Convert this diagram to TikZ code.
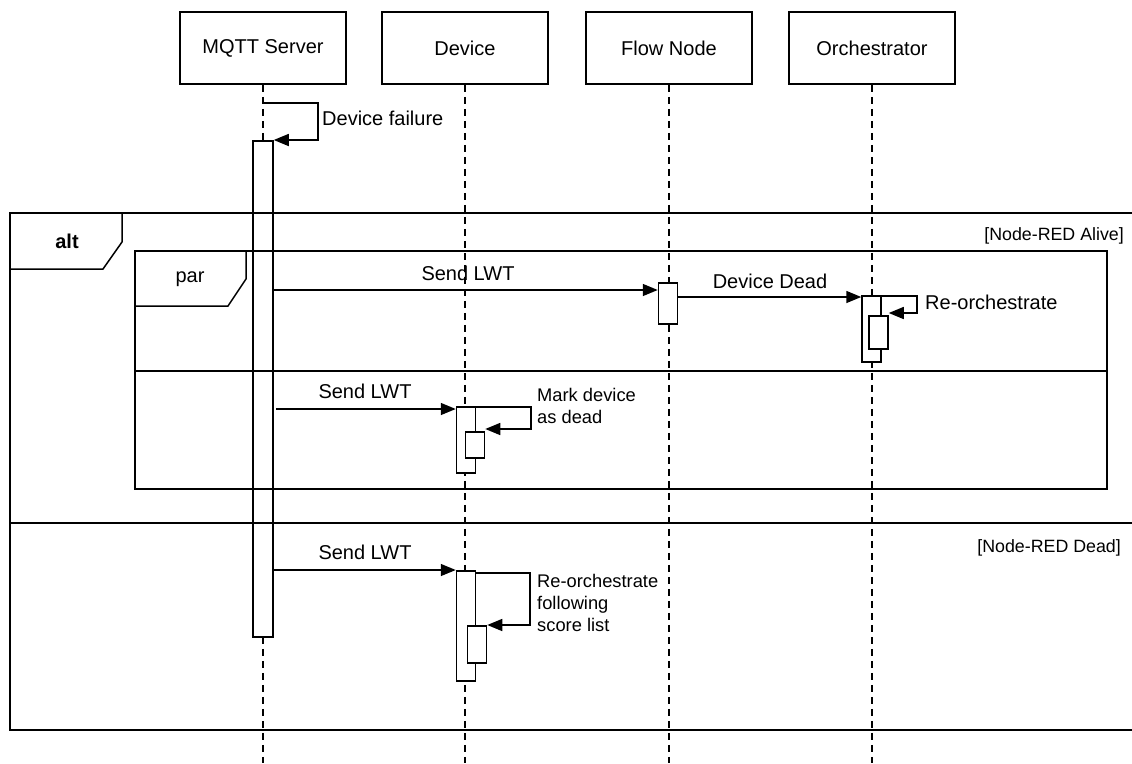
\documentclass[tikz,border=0pt]{standalone}
\usepackage{fontspec}
\setmainfont{Liberation Sans}
\usetikzlibrary{positioning,arrows.meta,calc}

\tikzset{
  actor/.style={draw,line width=1.5pt,minimum width=166pt,minimum height=72pt,inner sep=0pt,font=\fontsize{20}{23}\selectfont},
  lifeline/.style={line width=1.4pt,dash pattern=on 7pt off 5pt},
  actbar/.style={draw,fill=white,line width=1.5pt,minimum width=19pt,inner sep=0pt,anchor=north},
  msg/.style={line width=1.5pt,-{Triangle[length=15pt,width=12pt]}},
  frm/.style={line width=1.5pt},
  lbl/.style={inner sep=0pt,font=\fontsize{20}{23}\selectfont},
  note/.style={inner sep=0pt,anchor=west,align=left,font=\fontsize{18.3}{22}\selectfont},
  guard/.style={inner sep=0pt,anchor=east,font=\fontsize{17.8}{21}\selectfont}
}

\begin{document}
\begin{tikzpicture}[x=1pt,y=-1pt]
\useasboundingbox (0,0) rectangle (1132,763);

% participants
\node[actor] (mqtt) at (263,48) {MQTT Server};
\node[actor] (dev) at (465,48) {Device};
\node[actor] (flow) at (669,48) {Flow Node};
\node[actor] (orch) at (872,48) {Orchestrator};

% lifelines
\foreach \p in {mqtt,dev,flow,orch}
  \draw[lifeline] (\p.south) -- (\p.south |- 0,763);

% activations
\node[actbar,minimum width=20pt,minimum height=496pt] (mqttact) at (263,140) {};
\node[actbar,minimum height=41pt] (flowact) at (668,282) {};
\node[actbar,minimum height=66pt] (orchact) at (871.5,295) {};
\node[actbar,minimum height=33pt] (orchin) at (878.5,315) {};
\node[actbar,minimum height=66pt] (devact) at (466,406) {};
\node[actbar,minimum height=26pt] (devin) at (475,431) {};
\node[actbar,minimum height=110pt] (devbact) at (466,570) {};
\node[actbar,minimum height=37pt] (devbin) at (477,625) {};

% alt frame
\draw[frm] (1140,213) -- (10,213) -- (10,730) -- (1140,730);
\draw[frm] (10,523) -- (1140,523);
\draw[frm] (10,213) -- (122,213) -- (122,242) -- (103,269) -- (10,269);
\node[lbl,font=\fontsize{20}{23}\selectfont\bfseries] (alt) at (67,241) {alt};
\node[guard] (alive) at (1124,236) {[Node-RED Alive]};
\node[guard] (dead) at (1121,548) {[Node-RED Dead]};

% par frame
\draw[frm] (135,251) rectangle (1107,489);
\draw[frm] (135,371) -- (1107,371);
\draw[frm] (135,251) -- (246,251) -- (246,279) -- (228,306) -- (135,306);
\node[lbl] (par) at (190,279) {par};

% device failure
\coordinate (fail) at (263,103);
\draw[msg] (fail) -- (318,103) -- (318,140) -- (mqttact.north east);
\node[lbl,anchor=west] (failtxt) at (322,118) {Device failure};

% Node-RED alive, branch 1
\draw[msg] (mqttact.east |- 0,290) -- (flowact.west |- 0,290);
\node[lbl] (lwta) at (468,273) {Send LWT};
\draw[msg] (flowact.east |- 0,297) -- (orchact.west |- 0,297);
\node[lbl] (deaddev) at (770,281) {Device Dead};
\draw[msg] (orchact.east |- 0,296) -- (917,296) -- (917,313) -- (orchin.east |- 0,313);
\node[lbl,anchor=west] (reorch) at (925,302) {Re-orchestrate};

% Node-RED alive, branch 2
\coordinate (lwtbstart) at (276,409);
\draw[msg] (lwtbstart) -- (devact.west |- lwtbstart);
\node[lbl] (lwtb) at (365,391) {Send LWT};
\draw[msg] (devact.east |- 0,407) -- (531,407) -- (531,429) -- (devin.east |- 0,429);
\node[note] (mark) at (537,406) {Mark device\\as dead};

% Node-RED dead
\draw[msg] (mqttact.east |- 0,570) -- (devbact.west |- 0,570);
\node[lbl] (lwtc) at (365,552) {Send LWT};
\draw[msg] (devbact.east |- 0,573) -- (530,573) -- (530,625) -- (devbin.north east);
\node[note] (reorchb) at (537,603) {Re-orchestrate\\following\\score list};
\end{tikzpicture}
\end{document}
